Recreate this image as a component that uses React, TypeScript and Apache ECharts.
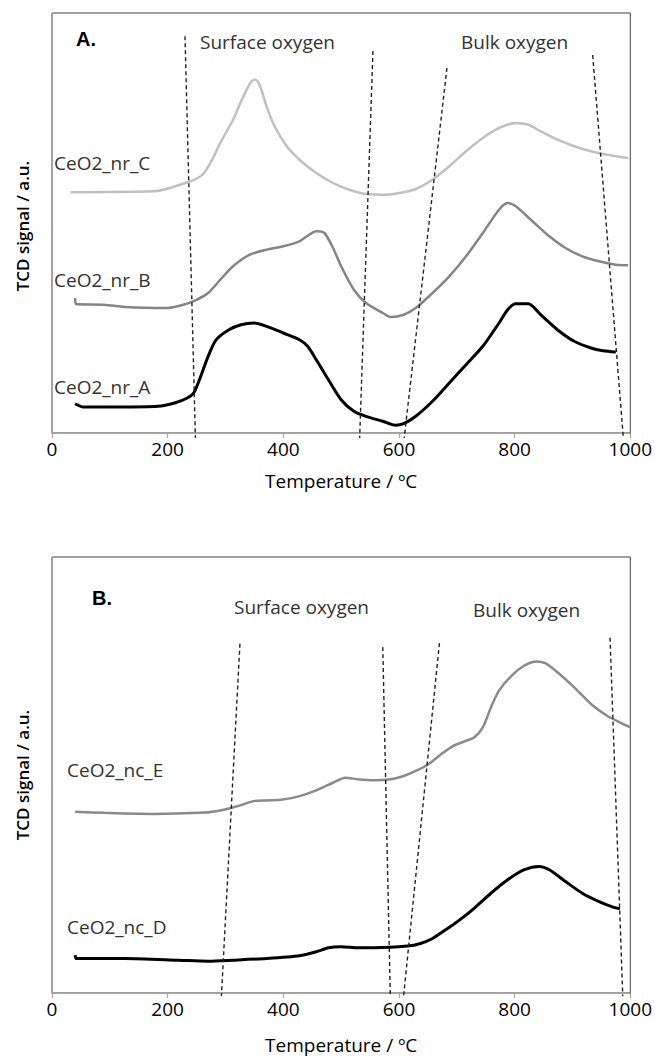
import React, { useEffect, useRef } from "react";
import * as echarts from "echarts";

// Panel A (CeO2 nanorods) – [temperature ºC, TCD signal a.u.]
const nrC: [number, number][] = [
  [32, 240.7], [176, 241.7], [198, 244], [234, 250.7], [252, 255], [263, 260], [277, 273.3],
  [291, 290], [313, 313.3], [331, 336.7], [345, 351.7], [352, 353.3], [360, 346.7], [371, 326.7],
  [385, 306.7], [406, 286.7], [428, 273.3], [457, 260], [486, 250], [514, 243.3], [543, 239],
  [579, 238.3], [608, 240.7], [629, 244], [658, 253.3], [687, 266.7], [716, 281.7], [745, 295],
  [773, 305], [802, 310], [824, 308.3], [845, 301.7], [874, 293.3], [903, 286.7], [932, 281.7],
  [960, 278.3], [996, 275],
];
const nrB: [number, number][] = [
  [40, 135], [41, 129], [90, 128.3], [126, 126], [198, 125], [227, 128.3], [248, 132.7], [270, 140],
  [291, 153.3], [313, 166.7], [342, 178.3], [371, 183.3], [400, 186.7], [428, 191.7], [457, 201.7],
  [471, 200], [486, 185], [500, 166.7], [522, 143.3], [543, 130], [572, 120], [586, 116],
  [608, 118.3], [629, 125], [658, 140], [687, 156.7], [716, 176.7], [745, 200], [773, 223.3],
  [788, 230], [802, 226.7], [831, 211.7], [860, 196.7], [888, 185], [917, 176.7], [946, 171.7],
  [975, 168.3], [996, 167.7],
];
const nrA: [number, number][] = [
  [40, 29.3], [54, 26], [112, 26], [183, 26.7], [212, 30], [234, 35], [245, 40], [255, 53.3],
  [270, 76.7], [284, 93.3], [306, 103.3], [327, 108.3], [349, 110], [371, 106.7], [400, 100],
  [428, 93.3], [442, 86.7], [457, 73.3], [478, 53.3], [500, 33.3], [522, 21.7], [543, 16.7],
  [572, 11.7], [594, 7.7], [608, 9.3], [629, 16.7], [658, 31.7], [687, 50], [716, 68.3],
  [745, 86.7], [773, 110], [788, 123.3], [802, 129.3], [824, 129.3], [845, 118.3], [874, 103.3],
  [903, 91.7], [932, 85], [953, 82.3], [975, 81],
];

// Panel B (CeO2 nanocubes)
const ncE: [number, number][] = [
  [40, 180.3], [90, 179.3], [176, 178.3], [255, 179.3], [284, 181], [306, 183.7], [327, 187],
  [349, 191], [371, 191.7], [399, 192.7], [428, 196], [457, 201.7], [486, 209.3], [507, 214.3],
  [529, 212.7], [557, 211.7], [586, 212.7], [608, 216], [629, 221], [651, 227.7], [673, 237.7],
  [694, 246], [716, 251], [730, 254.3], [745, 264.3], [759, 284.3], [773, 301], [795, 316],
  [817, 326], [838, 330], [853, 328.3], [874, 319.3], [903, 304.3], [932, 287.7], [960, 276],
  [982, 269.3], [1000, 264.3],
];
const ncD: [number, number][] = [
  [40, 37.7], [42, 34.3], [126, 34.3], [219, 32.7], [270, 31.7], [313, 32.7], [371, 34.3],
  [428, 37], [457, 41], [478, 45], [500, 46], [529, 45], [557, 45], [615, 46.7], [637, 49.3],
  [658, 54.3], [680, 62.7], [701, 71], [730, 84.3], [759, 99.3], [788, 112.7], [817, 122.7],
  [842, 126], [860, 122.7], [888, 111], [917, 99.3], [946, 91], [968, 86], [982, 83.7],
];

// Region boundary (dashed) lines: [top point, bottom point]
const boundsA: [number, number][][] = [
  [[230, 396.7], [248, -5]],
  [[555, 382], [532, -5]],
  [[683, 365], [609, -5]],
  [[935, 378], [988, -5]],
];
const boundsB: [number, number][][] = [
  [[325, 347.7], [293, -3]],
  [[572, 344.3], [585, -3]],
  [[670, 348.3], [608, -3]],
  [[965, 353.7], [987, -3]],
];

const xTicks = { min: 0, max: 1000, interval: 200 };
const xTitle = "Temperature / ºC";
const yTitle = "TCD signal / a.u.";

const FONT = "'Open Sans', 'Noto Sans', sans-serif";

export default function App() {
  const ref = useRef<HTMLDivElement>(null);
  useEffect(() => {
    document.body.style.margin = "0";
    if (!ref.current) return;
    const chart = echarts.init(ref.current, null, { renderer: "svg" });

    const mkX = (gridIndex: number, nameGap: number) => ({
      type: "value" as const,
      gridIndex,
      min: xTicks.min,
      max: xTicks.max,
      interval: xTicks.interval,
      name: xTitle,
      nameLocation: "middle" as const,
      nameGap,
      nameTextStyle: { fontSize: 19, fontFamily: FONT, color: "#000" },
      axisLine: { show: true, lineStyle: { color: "#a6a6a6", width: 1.2 } },
      axisTick: { show: true, length: 5, lineStyle: { color: "#a6a6a6", width: 1.2 } },
      axisLabel: {
        fontSize: 19,
        fontFamily: FONT,
        color: "#000",
        margin: 6,
        formatter: (v: number) => String(v),
      },
      splitLine: { show: false },
    });
    const mkY = (gridIndex: number, max: number) => ({
      type: "value" as const,
      gridIndex,
      min: 0,
      max,
      axisLine: { show: true, lineStyle: { color: "#a6a6a6", width: 1.2 } },
      axisTick: { show: false },
      axisLabel: { show: false },
      splitLine: { show: false },
    });
    const curve = (data: [number, number][], idx: number, color: string, width: number) => ({
      type: "line" as const,
      xAxisIndex: idx,
      yAxisIndex: idx,
      data,
      showSymbol: false,
      smooth: 0.25,
      lineStyle: { color, width },
      z: 3,
    });
    const dashed = (data: [number, number][], idx: number) => ({
      type: "line" as const,
      xAxisIndex: idx,
      yAxisIndex: idx,
      data,
      showSymbol: false,
      clip: false,
      lineStyle: { color: "#222", width: 1.4, type: [4, 3] as any },
      z: 4,
    });

    const txt = (
      text: string,
      x: number,
      y: number,
      opts: { size?: number; weight?: any; family?: string; color?: string; align?: string; rotation?: number } = {}
    ) => ({
      type: "text" as const,
      x,
      y,
      rotation: opts.rotation ?? 0,
      style: {
        text,
        fontSize: opts.size ?? 19,
        fontWeight: opts.weight ?? "normal",
        fontFamily: opts.family ?? FONT,
        fill: opts.color ?? "#333",
        align: (opts.align ?? "left") as any,
        verticalAlign: "middle" as any,
      },
      z: 10,
    });

    chart.setOption({
      animation: false,
      grid: [
        { left: 52, top: 13, width: 580, height: 420, show: true, borderColor: "#404040", borderWidth: 1, backgroundColor: "transparent" },
        { left: 52, top: 557, width: 580, height: 436, show: true, borderColor: "#404040", borderWidth: 1, backgroundColor: "transparent" },
      ],
      xAxis: [mkX(0, 38), mkX(1, 42)],
      yAxis: [mkY(0, 420), mkY(1, 434)],
      series: [
        curve(nrC, 0, "#c0c0c0", 2.5),
        curve(nrB, 0, "#858585", 2.5),
        curve(nrA, 0, "#000", 3),
        ...boundsA.map((b) => dashed(b, 0)),
        curve(ncE, 1, "#8a8a8a", 2.5),
        curve(ncD, 1, "#000", 3),
        ...boundsB.map((b) => dashed(b, 1)),
      ],
      graphic: [
        txt("A.", 76, 39, { size: 20, weight: "bold", family: "'Liberation Sans', Arial, sans-serif", color: "#000" }),
        txt("Surface oxygen", 200, 42),
        txt("Bulk oxygen", 461, 42),
        txt("CeO2_nr_C", 54, 163),
        txt("CeO2_nr_B", 54, 280),
        txt("CeO2_nr_A", 54, 387),
        txt(yTitle, 22, 226, { size: 17, weight: 600, color: "#000", align: "center", rotation: Math.PI / 2 }),
        txt("B.", 92, 598, { size: 20, weight: "bold", family: "'Liberation Sans', Arial, sans-serif", color: "#000" }),
        txt("Surface oxygen", 234, 607),
        txt("Bulk oxygen", 473, 610),
        txt("CeO2_nc_E", 67, 770),
        txt("CeO2_nc_D", 67, 927),
        txt(yTitle, 22, 775, { size: 17, weight: 600, color: "#000", align: "center", rotation: Math.PI / 2 }),
      ],
    });
    return () => chart.dispose();
  }, []);
  return <div ref={ref} style={{ width: 655, height: 1057 }} />;
}
